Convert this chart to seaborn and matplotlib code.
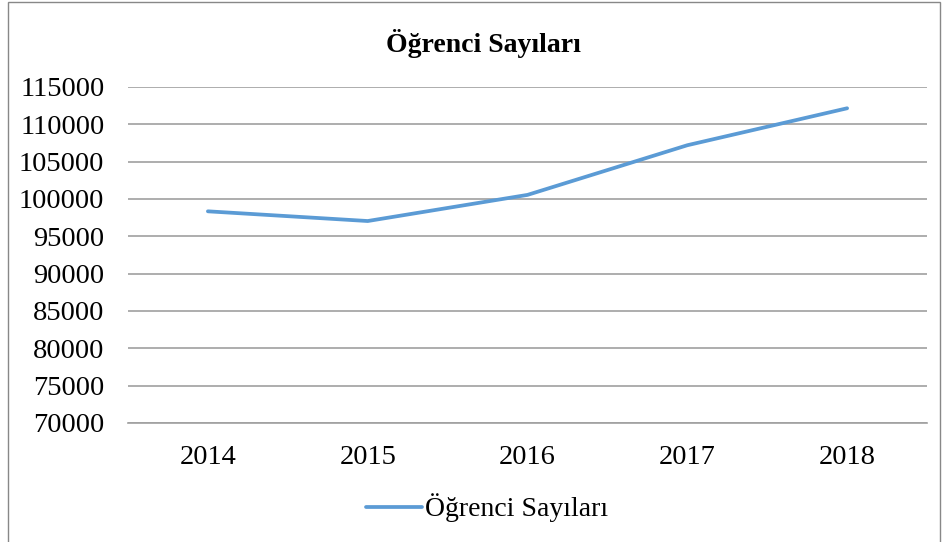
import seaborn as sns
import matplotlib.pyplot as plt
import pandas as pd
from matplotlib.patches import Rectangle

years = ["2014", "2015", "2016", "2017", "2018"]
students = [98350, 97050, 100550, 107200, 112150]
series_name = "Öğrenci Sayıları"

df = pd.DataFrame({"year": years, "count": students, "series": series_name})

sns.set_style("white")
plt.rcParams["font.family"] = ["Liberation Serif", "DejaVu Serif"]
plt.rcParams["text.color"] = "black"

fig = plt.figure(figsize=(9.46, 5.42), dpi=100)
ax = fig.add_axes([128 / 946, 1 - 423 / 542, 799 / 946, 336 / 542])

sns.lineplot(data=df, x="year", y="count", hue="series", palette=["#5b9bd5"],
             linewidth=2.7, ax=ax, sort=False)

ax.set_xlim(-0.5, 4.5)
ax.set_ylim(70000, 115000)
ax.set_yticks(range(70000, 115001, 5000))
ax.yaxis.grid(True, color="#a0a0a0", linewidth=1.2)
ax.set_axisbelow(True)
for s in ["top", "right", "left"]:
    ax.spines[s].set_visible(False)
ax.spines["bottom"].set_color("#a0a0a0")
ax.spines["bottom"].set_linewidth(1.2)
ax.tick_params(axis="both", length=0, labelsize=20.5, colors="black")
ax.tick_params(axis="y", pad=17)
ax.tick_params(axis="x", pad=16)
ax.set_xlabel("")
ax.set_ylabel("")

fig.text(483 / 946, 1 - 43 / 542, series_name, ha="center", va="center",
         fontsize=20, fontweight="bold", color="black")

ax.legend(loc="center", bbox_to_anchor=(487 / 946, 1 - 508 / 542),
          bbox_transform=fig.transFigure, frameon=False, fontsize=20,
          handlelength=2.0, handletextpad=0.1, labelcolor="black")

# chart area border
fig.patches.append(Rectangle((8 / 946, -0.01), 932 / 946, 1 - 2 / 542 + 0.01,
                             transform=fig.transFigure, fill=False,
                             edgecolor="#888888", linewidth=1))

fig.savefig("out.png", dpi=100)
